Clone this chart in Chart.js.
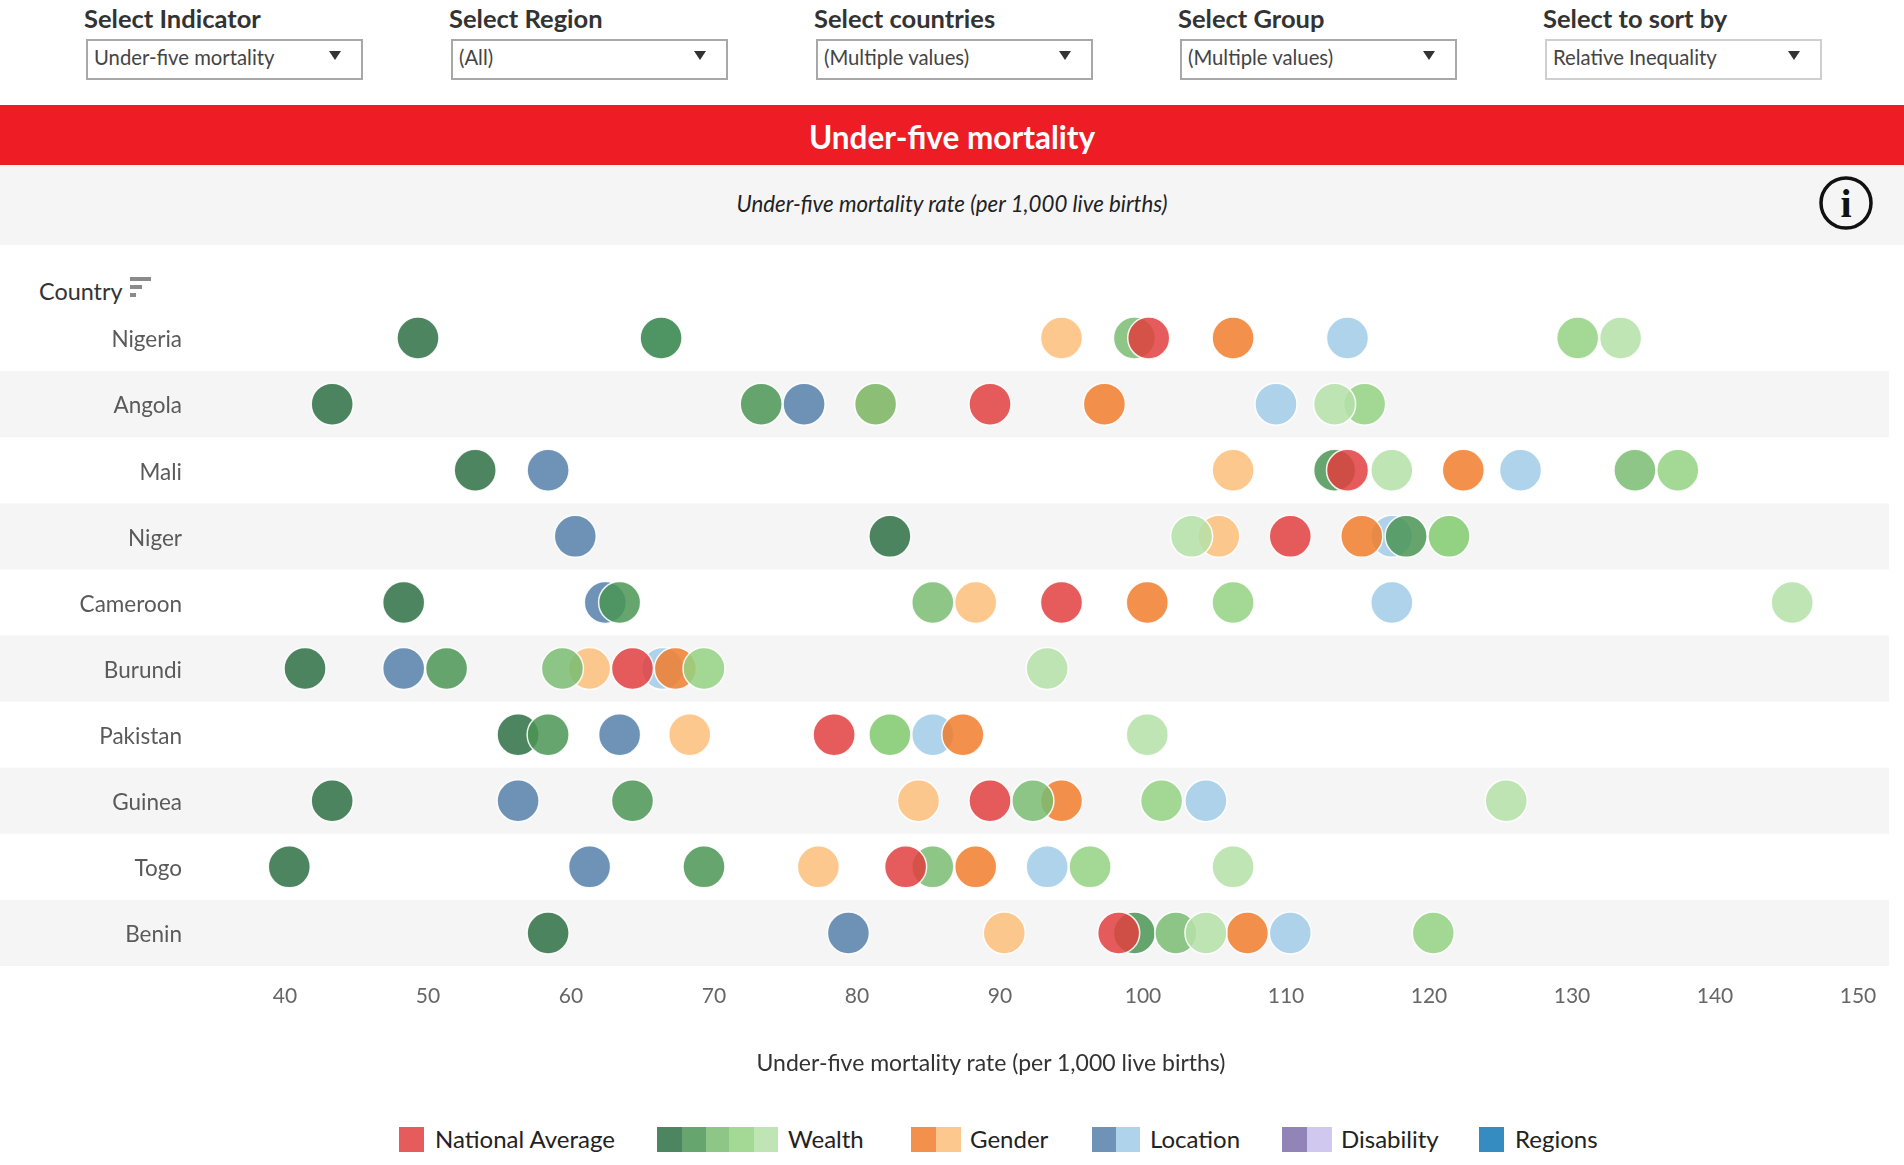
<!DOCTYPE html>
<html>
<head>
<meta charset="utf-8">
<title>Under-five mortality</title>
<script src="https://cdn.jsdelivr.net/npm/chart.js@4"></script>
<style>
  html, body { margin: 0; padding: 0; background: #fff; }
  body { width: 1904px; height: 1165px; position: relative; overflow: hidden; font-family: Lato, sans-serif; color: #333; }
  .abs { position: absolute; white-space: nowrap; }
  .filter-label { top: 4px; font-size: 25.5px; font-weight: 700; line-height: 28px; color: #333; }
  .filter-box { top: 39px; width: 273px; height: 37px; border: 2px solid #a8a8a8; background: #fff; font-size: 20.3px; line-height: 33px; text-indent: 6px; color: #444; }
  .filter-box.light { border-color: #cfcfcf; }
  .arrow { position: absolute; right: 20px; top: 10px; width: 0; height: 0; border-left: 6px solid transparent; border-right: 6px solid transparent; border-top: 9px solid #333; }
  #banner { left: 0; top: 105px; width: 1904px; height: 60px; background: #ee1c25; color: #fff; font-size: 31.5px; font-weight: 700; line-height: 64px; text-align: center; }
  #subtitle { left: 0; top: 165px; width: 1904px; height: 80px; background: #f5f5f5; font-size: 22.3px; font-style: italic; line-height: 78px; text-align: center; color: #222; }
  #country-head { left: 39px; top: 276px; font-size: 23.4px; line-height: 30px; color: #333; }
  .sort-bar { position: absolute; left: 130px; height: 4px; background: #8a8a8a; }
  #axis-title { left: 691px; width: 600px; top: 1047px; text-align: center; font-size: 23px; line-height: 30px; color: #333; }
  .legend-item { top: 1124px; font-size: 24px; line-height: 30px; color: #222; }
  .swatch { position: absolute; top: 1127px; height: 25px; display: flex; }
  .swatch i { display: block; height: 100%; }
  #chart { position: absolute; left: 0; top: 245px; }
</style>
</head>
<body>

<div id="filters"></div>
<div id="banner" class="abs">Under-five mortality</div>
<div id="subtitle" class="abs">Under-five mortality rate (per 1,000 live births)</div>
<svg class="abs" style="left:1818px;top:175px" width="56" height="56" viewBox="0 0 56 56">
  <circle cx="28" cy="28" r="25" fill="none" stroke="#111" stroke-width="3.5"/>
  <text x="28" y="42" text-anchor="middle" font-family="Liberation Serif" font-weight="700" font-size="40" fill="#111">i</text>
</svg>
<div id="country-head" class="abs">Country</div>
<div class="sort-bar" style="top:277px;width:21px"></div>
<div class="sort-bar" style="top:285px;width:12px"></div>
<div class="sort-bar" style="top:293px;width:6px"></div>

<canvas id="chart" width="1904" height="860"></canvas>

<div id="axis-title" class="abs">Under-five mortality rate (per 1,000 live births)</div>
<div id="legend"></div>

<script>
/* ─── Data ──────────────────────────────────────────────────────────────────── */

const countries = ['Nigeria', 'Angola', 'Mali', 'Niger', 'Cameroon', 'Burundi', 'Pakistan', 'Guinea', 'Togo', 'Benin'];

const nationalAverage = [100.4, 89.3, 114.3, 110.3, 94.3, 64.3, 78.4, 89.3, 83.4, 98.3];
const wealthQ1 = [49.3, 43.3, 53.3, 82.3, 48.3, 41.4, 56.3, 43.3, 40.3, 58.4];
const wealthQ2 = [66.3, 73.3, 113.4, 118.4, 63.4, 51.3, 58.4, 64.3, 69.3, 99.4];
const wealthQ3 = [99.4, 81.3, 134.4, 121.4, 85.3, 59.4, 82.3, 92.3, 85.3, 102.3];
const wealthQ4 = [130.4, 115.5, 137.4, 121.4, 106.3, 69.3, 82.3, 101.3, 96.3, 120.3];
const wealthQ5 = [133.4, 113.4, 117.4, 103.4, 145.4, 93.3, 100.3, 125.4, 106.3, 104.4];
const genderMale = [106.3, 97.3, 122.4, 115.3, 100.3, 67.3, 87.4, 94.3, 88.3, 107.3];
const genderFemale = [94.3, 81.3, 106.3, 105.3, 88.3, 61.3, 68.3, 84.3, 77.3, 90.3];
const locationRural = [66.3, 76.3, 58.4, 60.3, 62.4, 48.3, 63.4, 56.3, 61.3, 79.4];
const locationUrban = [114.3, 109.3, 126.4, 117.4, 117.4, 66.4, 85.3, 104.4, 93.3, 110.3];

const xTickValues = [40, 50, 60, 70, 80, 90, 100, 110, 120, 130, 140, 150];

const filterLabels = ['Select Indicator', 'Select Region', 'Select countries', 'Select Group', 'Select to sort by'];
const filterValues = ['Under-five mortality', '(All)', '(Multiple values)', '(Multiple values)', 'Relative Inequality'];
const legendLabels = ['National Average', 'Wealth', 'Gender', 'Location', 'Disability', 'Regions'];

/* ─── Colours ───────────────────────────────────────────────────────────────── */

const COLORS = {
  national: 'rgba(226,62,62,0.85)',
  q1:       'rgba(46,112,68,0.85)',
  q2:       'rgba(75,150,85,0.85)',
  q3:       'rgba(121,188,113,0.85)',
  q4:       'rgba(148,210,130,0.85)',
  q5:       'rgba(181,224,168,0.85)',
  male:     'rgba(240,124,45,0.85)',
  female:   'rgba(253,190,122,0.85)',
  rural:    'rgba(85,128,170,0.85)',
  urban:    'rgba(160,203,232,0.85)',
};

const LEGEND_SWATCHES = [
  { left: 399,  widths: [25],             colors: [COLORS.national] },
  { left: 657,  widths: [25, 24, 23, 25, 24], colors: [COLORS.q1, COLORS.q2, COLORS.q3, COLORS.q4, COLORS.q5] },
  { left: 911,  widths: [25, 25],         colors: [COLORS.male, COLORS.female] },
  { left: 1092, widths: [24, 24],         colors: [COLORS.rural, COLORS.urban] },
  { left: 1282, widths: [25, 25],         colors: ['rgba(128,110,170,0.85)', 'rgba(200,190,235,0.85)'] },
  { left: 1479, widths: [25],             colors: ['rgba(30,128,185,0.9)'] },
];
const LEGEND_TEXT_LEFT = [435, 788, 970, 1150, 1341, 1515];
const FILTER_LEFT = [86, 451, 816, 1180, 1545];

/* ─── Page furniture ────────────────────────────────────────────────────────── */

const filtersEl = document.getElementById('filters');
filterLabels.forEach((label, i) => {
  filtersEl.insertAdjacentHTML('beforeend', `
    <div class="abs filter-label" style="left:${FILTER_LEFT[i] - 2}px">${label}</div>
    <div class="abs filter-box ${i === 4 ? 'light' : ''}" style="left:${FILTER_LEFT[i]}px">${filterValues[i]}<span class="arrow"></span></div>
  `);
});

const legendEl = document.getElementById('legend');
legendLabels.forEach((label, i) => {
  const sw = LEGEND_SWATCHES[i];
  const cells = sw.colors.map((c, j) => `<i style="width:${sw.widths[j]}px;background:${c}"></i>`).join('');
  legendEl.insertAdjacentHTML('beforeend', `
    <div class="swatch" style="left:${sw.left}px">${cells}</div>
    <div class="abs legend-item" style="left:${LEGEND_TEXT_LEFT[i]}px">${label}</div>
  `);
});

/* ─── Chart ─────────────────────────────────────────────────────────────────── */

function series(label, values, color) {
  return {
    label,
    data: values.map((v, i) => ({ x: v, y: countries[i] })),
    backgroundColor: color,
    borderColor: 'rgba(255,255,255,0.9)',
    borderWidth: 1.5,
    pointRadius: 21,
    clip: false,
  };
}

// alternate row stripes, running past the plot area on both sides
const rowBands = {
  id: 'rowBands',
  beforeDraw(chart) {
    const { ctx, scales: { y } } = chart;
    const step = y.getPixelForValue(1) - y.getPixelForValue(0);
    ctx.save();
    ctx.fillStyle = '#f5f5f5';
    countries.forEach((c, i) => {
      if (i % 2 === 1) ctx.fillRect(0, y.getPixelForValue(i) - step / 2, 1889, step);
    });
    ctx.restore();
  },
};

// first dataset is painted last, so this runs top layer to bottom layer
new Chart(document.getElementById('chart'), {
  type: 'scatter',
  data: {
    datasets: [
      series('National Average', nationalAverage, COLORS.national),
      series('Wealth Q5', wealthQ5, COLORS.q5),
      series('Wealth Q4', wealthQ4, COLORS.q4),
      series('Wealth Q3', wealthQ3, COLORS.q3),
      series('Wealth Q2', wealthQ2, COLORS.q2),
      series('Wealth Q1', wealthQ1, COLORS.q1),
      series('Female', genderFemale, COLORS.female),
      series('Male', genderMale, COLORS.male),
      series('Urban', locationUrban, COLORS.urban),
      series('Rural', locationRural, COLORS.rural),
    ],
  },
  plugins: [rowBands],
  options: {
    responsive: false,
    animation: false,
    events: [],
    layout: { padding: { top: 60, right: 46, bottom: 0, left: 0 } },
    plugins: { legend: { display: false }, tooltip: { enabled: false } },
    scales: {
      x: {
        type: 'linear',
        min: 40,
        max: 150,
        afterBuildTicks: axis => { axis.ticks = xTickValues.map(value => ({ value })); },
        afterFit: axis => { axis.height = 139; },
        grid: { display: false, drawTicks: false },
        border: { display: false },
        ticks: { color: '#666', font: { family: 'Lato', size: 21 }, padding: 18, maxRotation: 0, autoSkip: false },
      },
      y: {
        type: 'category',
        labels: countries,
        offset: true,
        // tick padding would otherwise be reserved above and below the rows too
        afterFit: axis => { axis.width = 285; axis.paddingTop = 0; axis.paddingBottom = 0; },
        grid: { display: false, drawTicks: false },
        border: { display: false },
        ticks: { color: '#5a5a5a', font: { family: 'Lato', size: 22.5 }, padding: 103, labelOffset: 2, autoSkip: false },
      },
    },
  },
});
</script>
</body>
</html>
